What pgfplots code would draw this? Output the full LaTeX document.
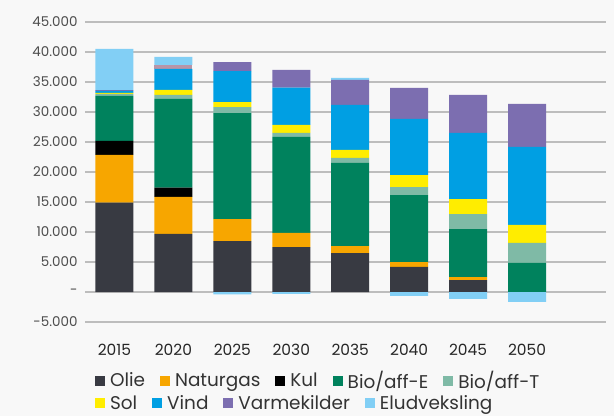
\documentclass[border=0pt]{standalone}
\usepackage{fontspec}
\setmainfont{Poppins}
\usepackage{pgfplots}
\usepackage{pgfplotstable}
\pgfplotsset{compat=1.18}

\definecolor{bgcol}{HTML}{F8F8F8}
\definecolor{gridcol}{HTML}{BDBDBD}
\definecolor{olie}{HTML}{383A42}
\definecolor{naturgas}{HTML}{F7A600}
\definecolor{kul}{HTML}{000000}
\definecolor{bioe}{HTML}{00825D}
\definecolor{biot}{HTML}{7FBAA6}
\definecolor{sol}{HTML}{FFED00}
\definecolor{vind}{HTML}{009FE3}
\definecolor{varme}{HTML}{7C6EB0}
\definecolor{mauve}{HTML}{B895A8}
\definecolor{elud}{HTML}{82CFF5}

% values
\pgfplotstableread{
x olie  ng   kul  bioe  biot sol  vind  varme mauve elpos elneg
0 14900 7950 2350 7500  300  200  300   150   0     6850  0
1 9700  6150 1550 14800 650  850  3500  0     650   1350  0
2 8500  3650 0    17650 1000 850  5150  1500  0     0     -400
3 7500  2350 0    16000 650  1350 6200  2950  0     0     -300
4 6500  1150 0    13850 850  1350 7500  4150  0     350   0
5 4200  800  0    11150 1350 2000 9350  5150  0     0     -650
6 2000  500  0    8000  2500 2500 11000 6350  0     0     -1150
7 0     0    0    4850  3350 3000 13000 7150  0     0     -1650
}\energy

\pgfplotsset{
  common/.style={
    at={(85bp,94bp)}, anchor=south west, scale only axis,
    width=521bp, height=300bp,
    xmin=-0.5, xmax=8.34, ymin=-5000, ymax=45000,
    ybar stacked, bar width=38bp,
    legend style={draw=none, fill=none, inner sep=0pt,
      font=\fontsize{18.5}{22}\selectfont, text=black!80,
      legend columns=-1,
      /tikz/every odd column/.append style={column sep=3bp},
      /tikz/every even column/.append style={column sep=13bp}},
    legend image code/.code={\fill[##1] (0bp,-5bp) rectangle (10bp,5bp);},
  },
}

\begin{document}
\begin{tikzpicture}[x=1bp,y=1bp]
\fill[bgcol] (0,0) rectangle (614,416);
\begin{axis}[common,
  scaled y ticks=false,
  xtick={0,...,7},
  xticklabels={2015,2020,2025,2030,2035,2040,2045,2050},
  ytick={-5000,0,5000,10000,15000,20000,25000,30000,35000,40000,45000},
  yticklabels={-5.000,-,5.000,10.000,15.000,20.000,25.000,30.000,35.000,40.000,45.000},
  ymajorgrids, grid style={gridcol, line width=1.2bp},
  axis line style={draw=none}, major tick length=0pt,
  yticklabel style={font=\fontsize{13.5}{16}\selectfont, text=black!70, xshift=-4bp},
  xticklabel style={font=\fontsize{15.5}{18}\selectfont, text=black!85, yshift=-19bp},
  legend style={at={(0.019,-0.195)}, anchor=west},
]
\addplot[fill=olie, draw=none] table[x=x, y=olie] {\energy};
\addlegendentry{Olie}
\addplot[fill=naturgas, draw=none] table[x=x, y=ng] {\energy};
\addlegendentry{Naturgas}
\addplot[fill=kul, draw=none] table[x=x, y=kul] {\energy};
\addlegendentry{Kul}
\addplot[fill=bioe, draw=none] table[x=x, y=bioe] {\energy};
\addlegendentry{Bio/aff-E}
\addplot[fill=biot, draw=none] table[x=x, y=biot] {\energy};
\addlegendentry{Bio/aff-T}
\addplot[fill=sol, draw=none] table[x=x, y=sol] {\energy};
\addplot[fill=vind, draw=none] table[x=x, y=vind] {\energy};
\addplot[fill=varme, draw=none] table[x=x, y=varme] {\energy};
\addplot[fill=mauve, draw=none] table[x=x, y=mauve] {\energy};
\addplot[fill=elud, draw=none] table[x=x, y=elpos] {\energy};
\end{axis}
% negative net exchange below zero, plus second legend row
\begin{axis}[common, hide axis,
  legend style={at={(0.019,-0.27)}, anchor=west},
]
\addplot[fill=elud, draw=none, forget plot] table[x=x, y=elneg] {\energy};
\addlegendimage{fill=sol, draw=none}
\addlegendentry{Sol}
\addlegendimage{fill=vind, draw=none}
\addlegendentry{Vind}
\addlegendimage{fill=varme, draw=none}
\addlegendentry{Varmekilder}
\addlegendimage{fill=elud, draw=none}
\addlegendentry{Eludveksling}
\end{axis}
\end{tikzpicture}
\end{document}
